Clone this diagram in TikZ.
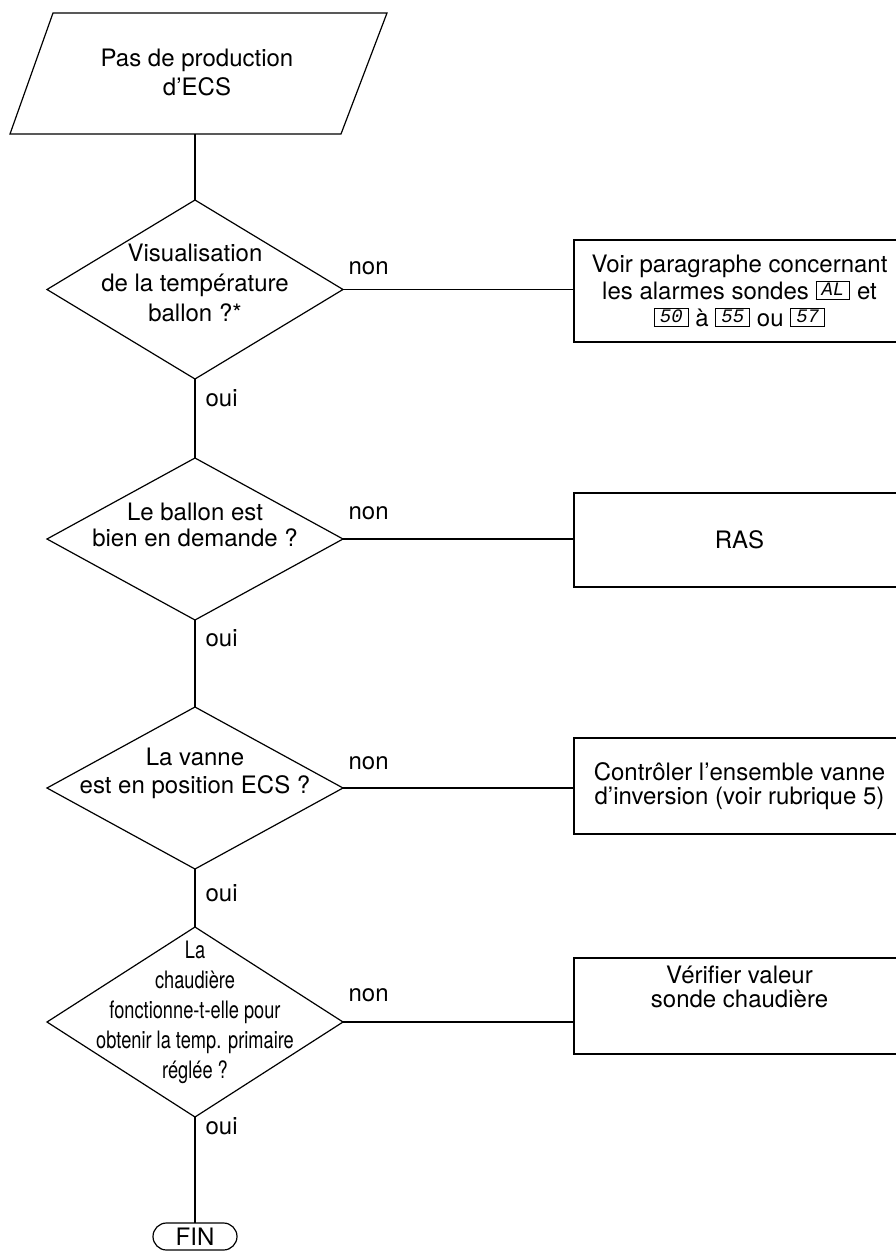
\documentclass[tikz,border=0pt]{standalone}
\usepackage{fontspec}
\setmainfont{TeX Gyre Heros}
\newfontfamily\narrowfont{TeX Gyre Heros}[FakeStretch=0.76]
\newfontfamily\segfont{Liberation Mono}
\usetikzlibrary{shapes.geometric}

% framed display code, as shown on the boiler's readout
\newcommand\readout[1]{\raisebox{4pt}{\fboxsep=0pt\fboxrule=0.9pt\fbox{\makebox[33pt]{\rule[-3pt]{0pt}{17pt}\fontsize{19}{19}\selectfont\segfont\itshape #1}}}}

\begin{document}
\begin{tikzpicture}[x=1pt,y=-1pt,line width=1.2pt,
  every node/.style={font=\fontsize{24}{29}\selectfont},
  decision/.style={draw,diamond,minimum width=296pt,inner sep=0pt,outer sep=0pt},
  qtext/.style={align=center,inner sep=0pt},
  action/.style={draw,rectangle,minimum width=331pt,inner sep=0pt,outer sep=0pt,align=center},
  endbox/.style={draw,rectangle,rounded corners=13.5pt,minimum width=84pt,
    minimum height=27pt,inner sep=0pt,outer sep=0pt},
  lbl/.style={inner sep=0pt,anchor=base west}
]
\useasboundingbox (0,0) rectangle (895,1253);

% start (input/output parallelogram)
\coordinate (pbl) at (10,134);
\coordinate (ptl) at (53,13);
\coordinate (ptr) at (387,13);
\coordinate (pbr) at (341,134);
\draw (pbl) -- (ptl) -- (ptr) -- (pbr) -- cycle;
\node[qtext] (start) at (197,72) {Pas de production\\d’ECS};
\coordinate (startb) at (195,134);

% decisions
\node[decision,minimum height=179pt] (d1) at (195,289.5) {};
\node[qtext,font=\fontsize{24}{30}\selectfont] (q1) at (195,283) {Visualisation\\de la température\\ballon ?*};

\node[decision,minimum height=162pt] (d2) at (195,539) {};
\node[qtext,font=\fontsize{24}{26}\selectfont] (q2) at (195,525) {Le ballon est\\bien en demande ?};

\node[decision,minimum height=162pt] (d3) at (195,788) {};
\node[qtext,font=\fontsize{24}{28}\selectfont] (q3) at (195,773) {La vanne\\est en position ECS ?};

\node[decision,minimum height=190pt] (d4) at (195,1022) {};
\node[qtext,font=\narrowfont\fontsize{24}{30}\selectfont] (q4) at (195,1012)
  {La\\chaudière\\fonctionne-t-elle pour\\obtenir la temp. primaire\\réglée ?};

% end
\node[endbox] (fin) at (195,1236.5) {FIN};

% actions
\node[action,minimum height=102pt,font=\fontsize{24}{27}\selectfont] (b1) at (739.5,291)
  {Voir paragraphe concernant\\les alarmes sondes \readout{AL} et\\\readout{50} à \readout{55} ou \readout{57}};
\node[action,minimum height=94pt] (b2) at (739.5,540) {RAS};
\node[action,minimum height=96pt,font=\fontsize{24}{24}\selectfont] (b3) at (739.5,786)
  {Contrôler l’ensemble vanne\\d’inversion (voir rubrique 5)};
\node[action,minimum height=96pt] (b4) at (739.5,1006) {};
\node[qtext,font=\fontsize{24}{24}\selectfont] (t4) at (739.5,987) {Vérifier valeur\\sonde chaudière};

% main flow
\draw (startb) -- (d1.north);
\draw (d1.south) -- (d2.north);
\draw (d2.south) -- (d3.north);
\draw (d3.south) -- (d4.north);
\draw (d4.south) -- (fin.north);

% branches
\draw (d1.east) -- (d1.east -| b1.west);
\draw (d2.east) -- (d2.east -| b2.west);
\draw (d3.east) -- (d3.east -| b3.west);
\draw (d4.east) -- (d4.east -| b4.west);

% labels
\node[lbl] (n1) at (348,274) {non};
\node[lbl] (n2) at (348,519) {non};
\node[lbl] (n3) at (348,769) {non};
\node[lbl] (n4) at (348,1001) {non};
\node[lbl] (o1) at (205,406) {oui};
\node[lbl] (o2) at (205,646) {oui};
\node[lbl] (o3) at (205,901) {oui};
\node[lbl] (o4) at (205,1134) {oui};
\end{tikzpicture}
\end{document}
